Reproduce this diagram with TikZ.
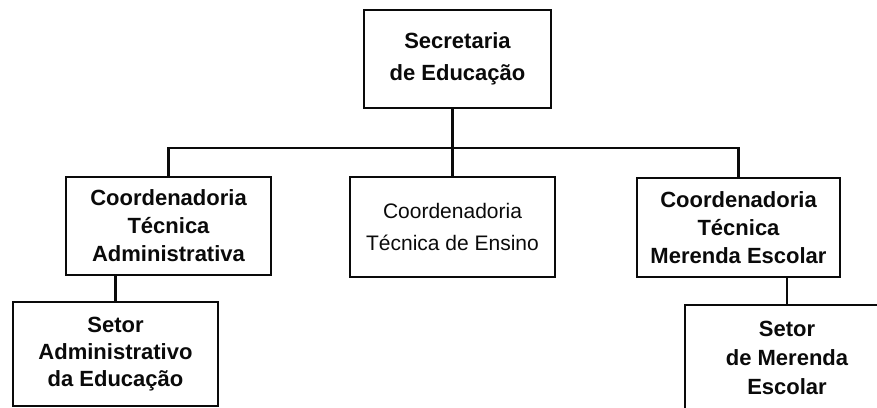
\documentclass[tikz,border=0pt]{standalone}
\usepackage{fontspec}
\setmainfont{Liberation Sans}
\usepackage{xcolor}
\definecolor{orgblack}{RGB}{10,10,10}
\usetikzlibrary{positioning, calc}

\tikzset{
  orgbox/.style={draw=orgblack, line width=2.4pt, align=center, inner sep=0pt,
                 text=orgblack, font=\bfseries\fontsize{22}{28}\selectfont},
  orgline/.style={draw=orgblack, line width=2.4pt}
}

\begin{document}
\begin{tikzpicture}[x=1pt, y=1pt]

% Page frame
\path[use as bounding box, clip] (0,0) rectangle (877,407);

% === Top: Secretaria ===
\node[orgbox, minimum width=187, minimum height=98,
      font=\bfseries\fontsize{22}{32}\selectfont] (sec) at (457.5,348)
     {Secretaria\\de Educação};

% === Middle row: Coordenadorias ===
\node[orgbox, minimum width=205, minimum height=98] (cta) at (168.5,181)
     {Coordenadoria\\Técnica\\Administrativa};
\node[orgbox, minimum width=205, minimum height=100,
      font=\fontsize{21}{32}\selectfont] (cte) at (452.5,180)
     {Coordenadoria\\Técnica de Ensino};
\node[orgbox, minimum width=203, minimum height=99] (ctm) at (738.5,179.5)
     {Coordenadoria\\Técnica\\Merenda Escolar};

% === Bottom row: Setores ===
\node[orgbox, minimum width=205, minimum height=104,
      font=\bfseries\fontsize{22}{27}\selectfont] (sad) at (115.5,53)
     {Setor\\Administrativo\\da Educação};
\node[orgbox, minimum width=204, minimum height=105,
      font=\bfseries\fontsize{22}{29}\selectfont] (sme) at (787,49.5)
     {Setor\\de Merenda\\Escolar};

% Bar below the Secretaria
\coordinate (bar) at (452.5,259);

% Connectors
\draw[orgline] (sec.south -| bar) -- (cte.north);
\draw[orgline] (cta.north) |- (bar) -| (ctm.north);
\draw[orgline] (sad.north) -- (sad.north |- cta.south);
\draw[orgline] (sme.north) -- (sme.north |- ctm.south);

\end{tikzpicture}
\end{document}
